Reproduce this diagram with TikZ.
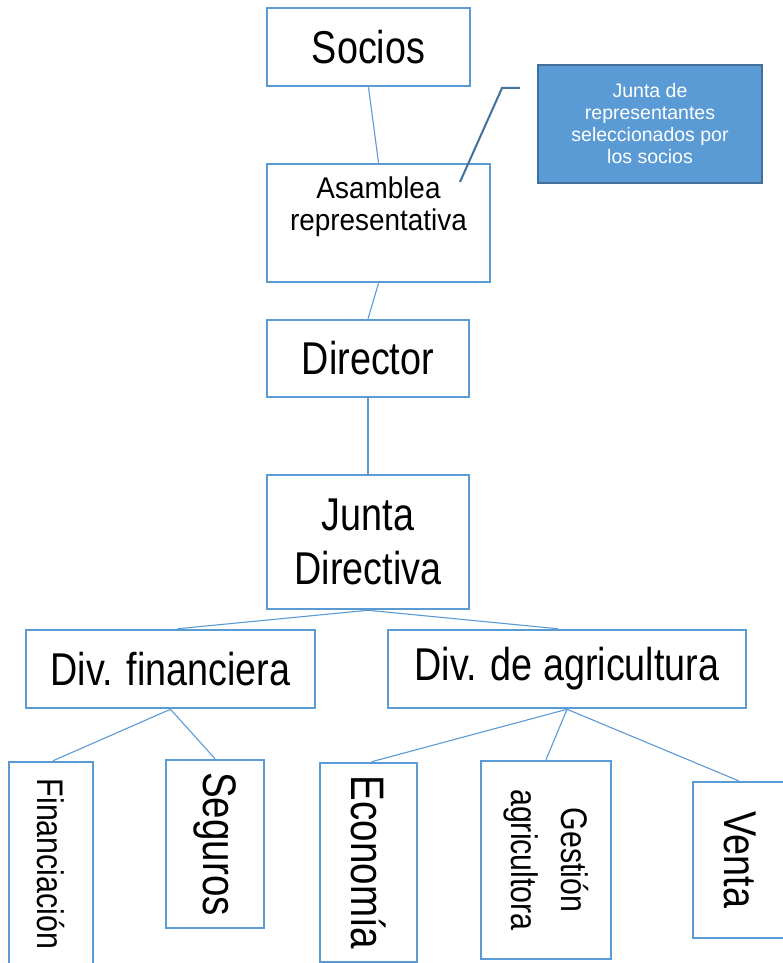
\documentclass[tikz,border=0pt]{standalone}
\usepackage{fontspec}
\usepackage{graphicx}
\setmainfont{Liberation Sans}[FakeStretch=0.82]
\newfontfamily\asfont{Liberation Sans}[FakeStretch=0.93]
\newfontfamily\calfont{Liberation Sans}
\definecolor{boxblue}{HTML}{5B9BD5}
\definecolor{darkblue}{HTML}{41719C}
\begin{document}
\begin{tikzpicture}[x=1pt,y=-1pt,
  box/.style={draw=boxblue, line width=2.5pt, fill=white, inner sep=0pt, align=center},
  big/.style={font=\fontsize{46}{54}\selectfont},
  conn/.style={draw=boxblue, line width=1.1pt},
  callout/.style={draw=darkblue, line width=2pt, fill=boxblue, text=white, align=center,
    inner sep=0pt, font=\calfont\fontsize{19.5}{22}\selectfont}]
\clip (0,0) rectangle (783,963);
\fill[white] (0,0) rectangle (783,963);

% top chain
\node[box, big, minimum width=203, minimum height=78] (soc) at (368.5,47) {Socios};
\node[box, minimum width=223, minimum height=118] (asm) at (378.5,223) {};
\node[align=center, font=\asfont\fontsize{30}{32}\selectfont] (asmtxt) at (378.5,207) {Asamblea\\representativa};
\node[box, big, minimum width=202, minimum height=77] (dir) at (368,358.5) {Director};
\node[box, big, minimum width=202, minimum height=134] (jun) at (368,542) {Junta\\Directiva};

% divisions
\node[box, big, minimum width=289, minimum height=78] (fin) at (170.5,669) {Div. financiera};
\node[box, big, minimum width=358, minimum height=78] (agr) at (567,669) {Div. de agricultura};

% bottom departments
\node[box, minimum width=84, minimum height=204, font=\fontsize{37}{44}\selectfont] (fnc) at (51,864) {\rotatebox{-90}{Financiación}};
\node[box, minimum width=98, minimum height=168, font=\fontsize{47}{54}\selectfont] (seg) at (215,844) {\rotatebox{-90}{Seguros}};
\node[box, minimum width=97, minimum height=199, font=\fontsize{47}{54}\selectfont] (eco) at (368.5,862.5) {\rotatebox{-90}{Economía}};
\node[box, minimum width=130, minimum height=198, font=\fontsize{37}{50}\selectfont] (ges) at (546,860) {\rotatebox{-90}{\begin{tabular}{@{}c@{}}Gestión\\agricultora\end{tabular}}};
\node[box, minimum width=95, minimum height=156, font=\fontsize{46}{54}\selectfont] (ven) at (740.5,860) {\rotatebox{-90}{Venta}};

% callout
\node[callout, minimum width=224, minimum height=118] (cal) at (650,124) {Junta de\\representantes\\seleccionados por\\los socios};
\coordinate (c1) at (460,182);
\coordinate (c2) at (502,88);
\coordinate (c3) at (520,88);
\draw[draw=darkblue, line width=2pt] (c1) -- (c2) -- (c3);

% connectors
\draw[conn] (soc.south) -- (asm.north);
\draw[conn] (asm.south) -- (dir.north);
\draw[conn] (dir.south) -- (jun.north);
\draw[conn] (jun.south) -- ([xshift=7pt]fin.north);
\draw[conn] (jun.south) -- ([xshift=-9pt]agr.north);
\draw[conn] (fin.south) -- ([xshift=2pt]fnc.north);
\draw[conn] (fin.south) -- (seg.north);
\draw[conn] (agr.south) -- ([xshift=3pt]eco.north);
\draw[conn] (agr.south) -- (ges.north);
\draw[conn] (agr.south) -- ([xshift=-2pt]ven.north);
\end{tikzpicture}
\end{document}
